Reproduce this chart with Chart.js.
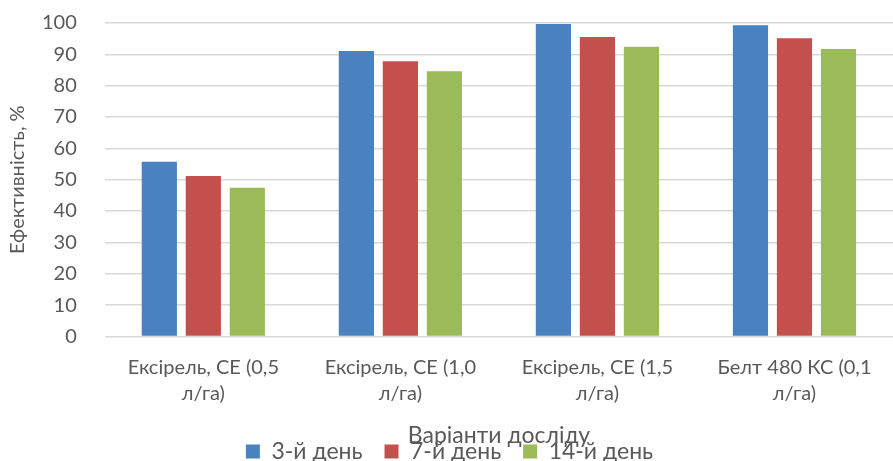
<!DOCTYPE html>
<html>
<head>
<meta charset="utf-8">
<script src="https://cdn.jsdelivr.net/npm/chart.js@4"></script>
<style>
  html, body { margin: 0; padding: 0; background: #fff; }
  #wrap { width: 893px; height: 461px; }
</style>
</head>
<body>
<div id="wrap"><canvas id="bar-chart" width="893" height="461"></canvas></div>
<script>
const categories = [
  ["Ексірель, СЕ (0,5", "л/га)"],
  ["Ексірель, СЕ (1,0", "л/га)"],
  ["Ексірель, СЕ (1,5", "л/га)"],
  ["Белт 480 КС (0,1", "л/га)"],
];
const day3 = [55.7, 91.1, 99.7, 99.3];
const day7 = [51.2, 87.8, 95.5, 95.1];
const day14 = [47.4, 84.6, 92.4, 91.7];
const seriesNames = ["3-й день", "7-й день", "14-й день"];
const yTicks = { min: 0, max: 100, step: 10 };

const grey = "#595959";
const fontFamily = "Lato, 'Open Sans', sans-serif";

const bar = () => {
  new Chart(document.getElementById("bar-chart"), {
    type: "bar",
    data: {
      labels: categories,
      datasets: [
        { label: seriesNames[0], data: day3, backgroundColor: "#4a81bf" },
        { label: seriesNames[1], data: day7, backgroundColor: "#c3504d" },
        { label: seriesNames[2], data: day14, backgroundColor: "#9bbb59" },
      ],
    },
    options: {
      responsive: false,
      animation: false,
      layout: { padding: { top: 23, right: 0, left: 6, bottom: -12 } },
      datasets: {
        bar: { categoryPercentage: 0.67, barPercentage: 0.8 },
      },
      scales: {
        x: {
          grid: { display: false, drawTicks: false },
          border: { display: false },
          ticks: {
            color: grey,
            font: { family: fontFamily, size: 20, lineHeight: 1.3 },
            maxRotation: 0,
            padding: 18,
          },
          title: {
            display: true,
            text: "Варіанти досліду",
            color: grey,
            font: { family: fontFamily, size: 23 },
            padding: { top: -3, bottom: -31 },
          },
        },
        y: {
          min: yTicks.min,
          max: yTicks.max,
          grid: {
            color: "#d9d9d9",
            lineWidth: 1.5,
            tickLength: 25,
            tickColor: "rgba(0,0,0,0)",
          },
          border: { display: false },
          ticks: {
            stepSize: yTicks.step,
            color: grey,
            font: { family: fontFamily, size: 20 },
            padding: 3,
          },
          title: {
            display: true,
            text: "Ефективність, %",
            color: grey,
            font: { family: fontFamily, size: 20 },
            padding: { top: 0, bottom: 9 },
          },
        },
      },
      plugins: {
        legend: {
          position: "bottom",
          labels: {
            color: grey,
            font: { family: fontFamily, size: 23 },
            boxWidth: 14,
            boxHeight: 14,
            padding: 22,
          },
        },
        tooltip: { enabled: false },
      },
    },
  });
};

bar();
</script>
</body>
</html>
